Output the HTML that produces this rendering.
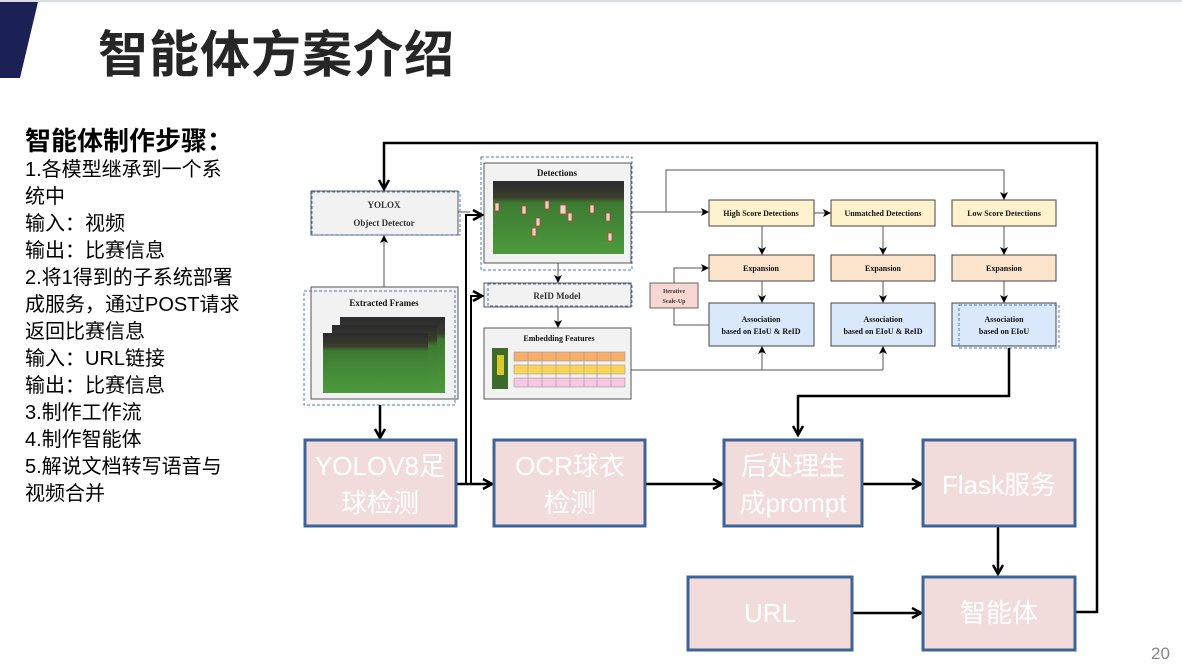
<!DOCTYPE html>
<html><head><meta charset="utf-8"><style>
body{margin:0;width:1182px;height:668px;overflow:hidden;background:#fff;font-family:"Liberation Sans","Noto Sans CJK SC",sans-serif;position:relative}
.t{position:absolute;left:98px;top:15px;font-size:50px;font-weight:bold;color:#262626;letter-spacing:1px;font-family:"Liberation Sans","Noto Sans CJK SC",sans-serif}
.left{position:absolute;left:25px;top:124px;font-size:20px;line-height:27px;color:#000;white-space:nowrap}
.left h3{margin:0 0 -1px 0;font-size:26px;font-weight:bold;line-height:34px}
svg{position:absolute;left:0;top:0}
.num{position:absolute;left:1151px;top:644px;font-size:17px;color:#888}
</style></head><body>
<div style="position:absolute;left:0;top:0;width:1182px;height:2px;background:#d8dce3"></div>
<svg width="1182" height="668" viewBox="0 0 1182 668">
<defs>
<marker id="a" markerWidth="8" markerHeight="8" refX="7" refY="4" orient="auto" markerUnits="userSpaceOnUse"><path d="M0,0 L8,4 L0,8 L2,4z" fill="#000"/></marker>
<marker id="b" markerWidth="12" markerHeight="12" refX="10" refY="6" orient="auto" markerUnits="userSpaceOnUse"><path d="M1,1 L10,6 L1,11" fill="none" stroke="#000" stroke-width="2.5"/></marker>
<linearGradient id="fld" x1="0" y1="0" x2="0" y2="1"><stop offset="0" stop-color="#2a2a30"/><stop offset="0.22" stop-color="#3a3d2a"/><stop offset="0.3" stop-color="#3d7a32"/><stop offset="1" stop-color="#4d9a3c"/></linearGradient>
</defs>
<polygon points="0,2 38,2 20,78 0,78" fill="#1b2155"/>
<g font-family="Liberation Serif,serif" font-weight="bold" text-anchor="middle">
<rect x="311" y="191" width="147" height="44" fill="#f2f2f2" stroke="#555" stroke-width="1"/>
<rect x="312" y="192" width="148" height="43" fill="none" stroke="#4a7cc0" stroke-dasharray="3,2"/>
<text x="384" y="208" font-size="9" fill="#333">YOLOX</text>
<text x="384" y="226" font-size="9" fill="#333">Object Detector</text>
<rect x="311" y="287" width="147" height="112" fill="#f2f2f2" stroke="#555"/>
<rect x="304" y="291" width="151" height="114" fill="none" stroke="#4a7cc0" stroke-dasharray="3,2"/>
<text x="384" y="306" font-size="9" fill="#111">Extracted Frames</text>
<rect x="340" y="317" width="105" height="76" fill="url(#fld)"/>
<rect x="332" y="325" width="105" height="68" fill="url(#fld)"/>
<rect x="323" y="333" width="105" height="60" fill="url(#fld)"/>
<rect x="484" y="163" width="147" height="100" fill="#f2f2f2" stroke="#555"/>
<rect x="481" y="157" width="151" height="113" fill="none" stroke="#4a7cc0" stroke-dasharray="3,2"/>
<text x="557" y="176" font-size="9" fill="#111">Detections</text>
<rect x="493" y="181" width="131" height="73" fill="url(#fld)"/>
<g fill="#e0d8d0" stroke="#c0442a" stroke-width="0.8"><rect x="495" y="203" width="4" height="8"/><rect x="522" y="206" width="4" height="8"/><rect x="545" y="201" width="4" height="8"/><rect x="560" y="205" width="6" height="9"/><rect x="568" y="213" width="4" height="8"/><rect x="590" y="205" width="4" height="8"/><rect x="606" y="213" width="4" height="8"/><rect x="536" y="218" width="4" height="8"/><rect x="608" y="233" width="4" height="8"/><rect x="532" y="228" width="4" height="8"/></g>
<rect x="484" y="283" width="147" height="24" fill="#f2f2f2" stroke="#555"/>
<rect x="488" y="284" width="144" height="22" fill="none" stroke="#4a7cc0" stroke-dasharray="3,2"/>
<text x="557" y="299" font-size="9" fill="#333">ReID Model</text>
<rect x="484" y="328" width="147" height="71" fill="#f2f2f2" stroke="#555"/>
<text x="559" y="341" font-size="8" fill="#111">Embedding Features</text>
<rect x="492" y="348" width="16" height="41" fill="#3d6b2e"/>
<rect x="497" y="355" width="7" height="20" fill="#d8c82a"/>
<g stroke="#999" stroke-width="0.6">
<rect x="514" y="352" width="111" height="9" fill="#f9ad6a"/>
<rect x="514" y="365" width="111" height="9" fill="#fcd35a"/>
<rect x="514" y="378" width="111" height="9" fill="#f9c6e2"/>
<path d="M528,352v35M542,352v35M556,352v35M570,352v35M584,352v35M597,352v35M611,352v35"/>
</g>
<rect x="650" y="283" width="48" height="25" fill="#f8d7d3" stroke="#666"/>
<text x="674" y="293" font-size="6" fill="#333">Iterative</text>
<text x="674" y="303" font-size="6" fill="#333">Scale-Up</text>
<g stroke="#444" stroke-width="1">
<rect x="709" y="200" width="105" height="26" fill="#fff2cc"/><rect x="831" y="200" width="104" height="26" fill="#fff2cc"/><rect x="952" y="200" width="104" height="26" fill="#fff2cc"/>
<rect x="709" y="255" width="105" height="26" fill="#fce4cc"/><rect x="831" y="255" width="104" height="26" fill="#fce4cc"/><rect x="952" y="255" width="104" height="26" fill="#fce4cc"/>
<rect x="709" y="303" width="105" height="43" fill="#dae8fc"/><rect x="831" y="303" width="104" height="43" fill="#dae8fc"/><rect x="952" y="303" width="104" height="43" fill="#dae8fc"/>
</g>
<rect x="959" y="305" width="100" height="43" fill="none" stroke="#4a7cc0" stroke-dasharray="3,2"/>
<g font-size="8" fill="#111">
<text x="761" y="216">High Score Detections</text><text x="883" y="216">Unmatched Detections</text><text x="1004" y="216">Low Score Detections</text>
<text x="761" y="271">Expansion</text><text x="883" y="271">Expansion</text><text x="1004" y="271">Expansion</text>
<text x="761" y="322">Association</text><text x="761" y="334">based on EIoU &amp; ReID</text>
<text x="883" y="322">Association</text><text x="883" y="334">based on EIoU &amp; ReID</text>
<text x="1004" y="322">Association</text><text x="1004" y="334">based on EIoU</text>
</g>
</g>
<g stroke="#555" stroke-width="1" fill="none">
<path d="M384,287V236" marker-end="url(#a)"/>
<path d="M458,212H470"/>
<path d="M558,263V282" marker-end="url(#a)"/>
<path d="M558,307V327" marker-end="url(#a)"/>
<path d="M631,212H708" marker-end="url(#a)"/>
<path d="M666,212V170H1004V199" marker-end="url(#a)"/>
<path d="M814,213H830" marker-end="url(#a)"/>
<path d="M762,226V254" marker-end="url(#a)"/><path d="M883,226V254" marker-end="url(#a)"/><path d="M1004,226V254" marker-end="url(#a)"/>
<path d="M762,281V302" marker-end="url(#a)"/><path d="M883,281V302" marker-end="url(#a)"/><path d="M1004,281V302" marker-end="url(#a)"/>
<path d="M674,283V268H708" marker-end="url(#a)"/>
<path d="M674,308V325H709"/>
<path d="M631,370H883"/>
<path d="M762,370V347" marker-end="url(#a)"/><path d="M883,370V347" marker-end="url(#a)"/>
</g>
<g stroke="#000" stroke-width="2.5" fill="none">
<path d="M1076,612H1097V143H384V189" marker-end="url(#b)"/>
<path d="M1009,348V396H798V435" marker-end="url(#b)"/>
<path d="M380,405V438" marker-end="url(#b)"/>
<path d="M457,484H492" marker-end="url(#b)"/>
<path d="M466,484V215H482" stroke-width="2" marker-end="url(#b)"/>
<path d="M471,484V296H482" stroke-width="2" marker-end="url(#b)"/>
<path d="M646,484H722" marker-end="url(#b)"/>
<path d="M863,484H921" marker-end="url(#b)"/>
<path d="M998,527V574" marker-end="url(#b)"/>
<path d="M853,613H921" marker-end="url(#b)"/>
</g>
<g fill="#f2dcdb" stroke="#3d6498" stroke-width="3">
<rect x="305" y="440" width="151" height="86"/><rect x="494" y="440" width="151" height="86"/>
<rect x="724" y="440" width="138" height="86"/><rect x="923" y="440" width="152" height="86"/>
<rect x="688" y="577" width="164" height="73"/><rect x="923" y="577" width="152" height="73"/>
</g>
<g fill="#fff" font-size="26" text-anchor="middle" font-family="Liberation Sans,Noto Sans CJK SC,sans-serif">
<text x="380" y="475">YOLOV8足</text><text x="380" y="512">球检测</text>
<text x="570" y="475">OCR球衣</text><text x="570" y="512">检测</text>
<text x="793" y="475">后处理生</text><text x="793" y="512">成prompt</text>
<text x="999" y="494">Flask服务</text>
<text x="770" y="622">URL</text>
<text x="999" y="622">智能体</text>
</g>
</svg>
<div class="t">智能体方案介绍</div>
<div class="left"><h3>智能体制作步骤：</h3>1.各模型继承到一个系<br>统中<br>输入：视频<br>输出：比赛信息<br>2.将1得到的子系统部署<br>成服务，通过POST请求<br>返回比赛信息<br>输入：URL链接<br>输出：比赛信息<br>3.制作工作流<br>4.制作智能体<br>5.解说文档转写语音与<br>视频合并</div>
<div class="num">20</div>
</body></html>
